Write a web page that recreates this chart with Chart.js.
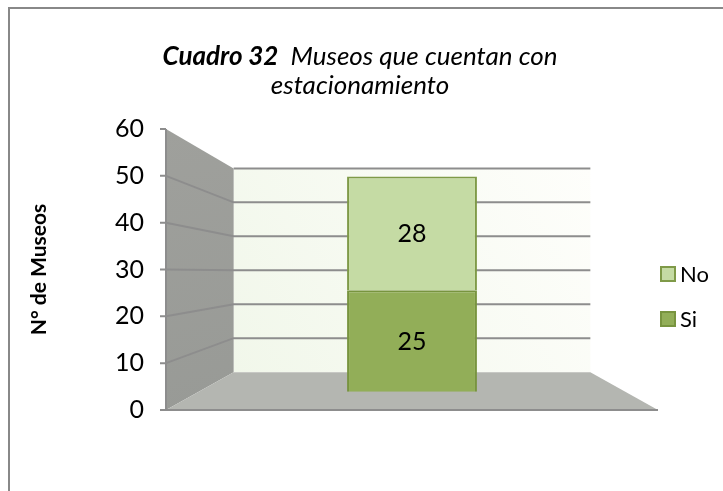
<!DOCTYPE html>
<html>
<head>
<meta charset="utf-8">
<script src="https://cdn.jsdelivr.net/npm/chart.js@4.4.0/dist/chart.umd.min.js"></script>
<style>
  html, body { margin: 0; padding: 0; background: #fff; overflow: hidden; }
  #wrap { position: relative; width: 723px; height: 491px; }
</style>
</head>
<body>
<div id="wrap"><canvas id="museosChart" width="723" height="491"></canvas></div>
<script>
// datos del cuadro 32
const categories = [''];
const siValues = [25];
const noValues = [28];
const yMin = 0, yMax = 60, yStep = 10;

// perspectiva 3D (tipo Excel): punto de fuga y profundidades
const persp = { vx: 0.5, vy: 0.51, back: 0.725, bar: 0.867 };

// el eje oculto de la barra se calcula para que la barra quede "dentro" de la caja
const vv = yMax - (yMax - yMin) * persp.vy;
const barMin = vv + (yMin - vv) / persp.bar;
const barMax = vv + (yMax - vv) / persp.bar;

const FONT = 'Lato, "Open Sans", sans-serif';
const grisLinea = '#8d8d8d';

function proj(ca, x, y, s) {
    const cx = ca.left + ca.width * persp.vx;
    const cy = ca.top + ca.height * persp.vy;
    return [cx + s * (x - cx), cy + s * (y - cy)];
}

const wallsPlugin = {
    id: 'walls',
    beforeDraw(chart) {
        const ctx = chart.ctx;
        // marco
        ctx.save();
        ctx.strokeStyle = '#888';
        ctx.lineWidth = 2;
        ctx.beginPath();
        ctx.moveTo(9, 491);
        ctx.lineTo(9, 8);
        ctx.lineTo(723, 8);
        ctx.stroke();
        ctx.restore();
    },
    beforeDatasetsDraw(chart) {
        const ctx = chart.ctx;
        const ca = chart.chartArea;
        const ys = chart.scales.y;
        const L = ca.left, R = ca.right, T = ca.top, B = ca.bottom;
        const s = persp.back;
        const bTL = proj(ca, L, T, s), bBL = proj(ca, L, B, s);
        const bTR = proj(ca, R, T, s), bBR = proj(ca, R, B, s);
        ctx.save();

        // pared del fondo
        let g = ctx.createLinearGradient(bBL[0], bBL[1], bTR[0], bTR[1]);
        g.addColorStop(0, '#f1f7ea');
        g.addColorStop(1, '#fefefb');
        ctx.fillStyle = g;
        ctx.fillRect(bTL[0], bTL[1], bTR[0] - bTL[0], bBL[1] - bTL[1]);

        // pared izquierda
        g = ctx.createLinearGradient(L, T, bBL[0], B);
        g.addColorStop(0, '#9fa09c');
        g.addColorStop(1, '#989a96');
        ctx.fillStyle = g;
        ctx.beginPath();
        ctx.moveTo(L, T);
        ctx.lineTo(bTL[0], bTL[1]);
        ctx.lineTo(bBL[0], bBL[1]);
        ctx.lineTo(L, B);
        ctx.closePath();
        ctx.fill();

        // piso
        ctx.fillStyle = '#b4b6b1';
        ctx.beginPath();
        ctx.moveTo(L, B);
        ctx.lineTo(R, B);
        ctx.lineTo(bBR[0], bBR[1]);
        ctx.lineTo(bBL[0], bBL[1]);
        ctx.closePath();
        ctx.fill();

        // lineas de division
        ctx.strokeStyle = grisLinea;
        ctx.lineWidth = 2;
        for (let v = yMin + yStep; v <= yMax; v += yStep) {
            const y = ys.getPixelForValue(v);
            const a = proj(ca, L, y, s), b = proj(ca, R, y, s);
            ctx.beginPath();
            if (v < yMax) {
                ctx.moveTo(L, y);
                ctx.lineTo(a[0], a[1]);
            } else {
                ctx.moveTo(a[0], a[1]);
            }
            ctx.lineTo(b[0], b[1]);
            ctx.stroke();
        }

        // eje vertical y marcas
        ctx.beginPath();
        ctx.moveTo(L, T);
        ctx.lineTo(L, B);
        for (let v = yMin; v <= yMax; v += yStep) {
            const y = ys.getPixelForValue(v);
            ctx.moveTo(L - 6, y);
            ctx.lineTo(L, y);
        }
        ctx.moveTo(L - 6, B);
        ctx.lineTo(R, B);
        ctx.stroke();
        ctx.restore();
    },
    afterDatasetsDraw(chart) {
        const ctx = chart.ctx;
        ctx.save();
        ctx.fillStyle = '#000';
        ctx.font = '25px ' + FONT;
        ctx.textAlign = 'center';
        ctx.textBaseline = 'middle';
        chart.data.datasets.forEach((ds, i) => {
            chart.getDatasetMeta(i).data.forEach((bar, j) => {
                ctx.fillText(String(ds.data[j]), bar.x, (bar.y + bar.base) / 2 + 1);
            });
        });

        // leyenda (No arriba, Si abajo)
        const ca = chart.chartArea;
        const lx = ca.right + 3;
        ctx.font = '22px ' + FONT;
        const items = chart.data.datasets.slice().reverse();
        items.forEach((ds, k) => {
            const cy = 274 + k * 45;
            ctx.fillStyle = ds.backgroundColor;
            ctx.fillRect(lx, cy - 7, 14, 14);
            ctx.strokeStyle = ds.borderColor;
            ctx.lineWidth = 2;
            ctx.strokeRect(lx, cy - 7, 14, 14);
            ctx.fillStyle = '#000';
            ctx.textAlign = 'left';
            ctx.fillText(ds.label, lx + 19, cy + 1);
        });

        // titulo
        const tx = 360;
        ctx.textBaseline = 'alphabetic';
        const f1 = 'italic bold 26px ' + FONT;
        const f2 = 'italic 26px ' + FONT;
        ctx.font = f1;
        const w1 = ctx.measureText('Cuadro 32').width;
        ctx.font = f2;
        const w2 = ctx.measureText('  Museos que cuentan con').width;
        let x0 = tx - (w1 + w2) / 2;
        ctx.font = f1;
        ctx.textAlign = 'left';
        ctx.fillText('Cuadro 32', x0, 65);
        ctx.font = f2;
        ctx.fillText('  Museos que cuentan con', x0 + w1, 65);
        ctx.textAlign = 'center';
        ctx.fillText('estacionamiento', tx, 94);
        ctx.restore();
    }
};

const ctx = document.getElementById('museosChart').getContext('2d');
const chart = new Chart(ctx, {
    type: 'bar',
    data: {
        labels: categories,
        datasets: [
            {
                label: 'Si',
                data: siValues,
                backgroundColor: '#92ae58',
                borderColor: '#78943f',
                borderWidth: 2,
                yAxisID: 'yBar'
            },
            {
                label: 'No',
                data: noValues,
                backgroundColor: '#c5dba4',
                borderColor: '#7f9a48',
                borderWidth: 2,
                yAxisID: 'yBar'
            }
        ]
    },
    options: {
        responsive: false,
        animation: false,
        layout: { padding: { left: 10, top: 129, right: 65, bottom: 81 } },
        datasets: {
            bar: { categoryPercentage: 1, barPercentage: 0.264 }
        },
        scales: {
            x: { display: false, stacked: true },
            y: {
                position: 'left',
                min: yMin,
                max: yMax,
                afterFit: (scale) => { scale.width = 156; },
                ticks: {
                    stepSize: yStep,
                    padding: 22,
                    color: '#000',
                    font: { family: FONT, size: 25 }
                },
                grid: { display: false, drawTicks: false },
                border: { display: false },
                title: {
                    display: true,
                    text: 'N° de Museos',
                    color: '#000',
                    padding: { top: 17, bottom: 0 },
                    font: { family: FONT, size: 21, weight: 'bold' }
                }
            },
            yBar: {
                display: false,
                position: 'left',
                stacked: true,
                min: barMin,
                max: barMax
            }
        },
        plugins: {
            legend: { display: false },
            tooltip: { enabled: false }
        }
    },
    plugins: [wallsPlugin]
});
</script>
</body>
</html>
